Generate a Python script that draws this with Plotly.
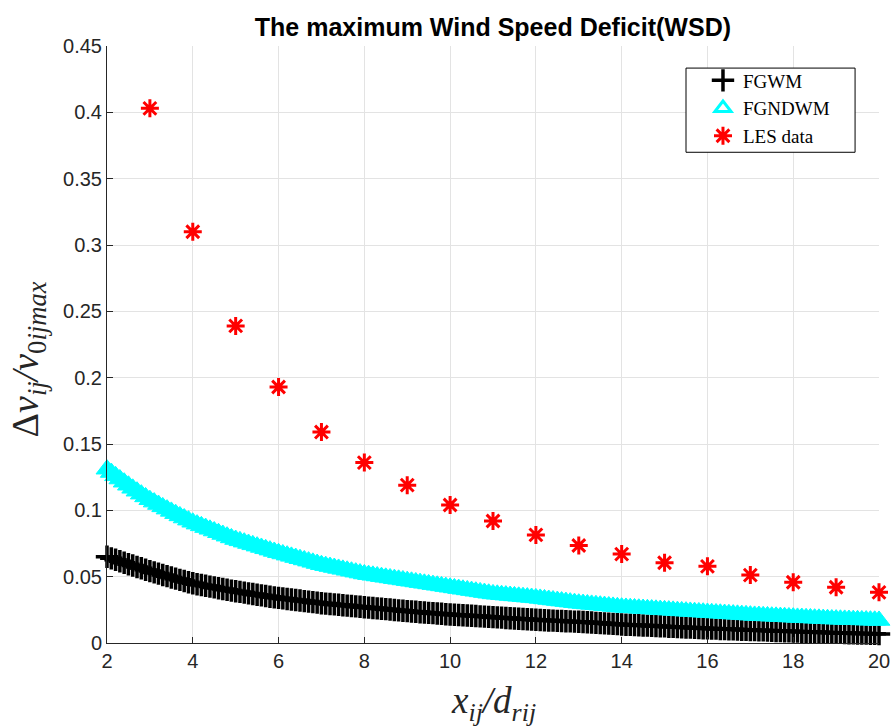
import plotly.graph_objects as go

# x positions of model curves (distance ratio x_ij/d_rij), step 0.1 from 2 to 20
x_model = [round(2.0 + 0.1 * i, 1) for i in range(181)]

fgwm = [
    0.0650, 0.0638, 0.0627, 0.0616, 0.0605, 0.0594, 0.0584, 0.0573, 0.0563, 0.0552,
    0.0542, 0.0532, 0.0523, 0.0513, 0.0504, 0.0494, 0.0485, 0.0476, 0.0467, 0.0458,
    0.0450, 0.0443, 0.0437, 0.0431, 0.0425, 0.0419, 0.0413, 0.0407, 0.0401, 0.0395,
    0.0390, 0.0385, 0.0380, 0.0374, 0.0369, 0.0364, 0.0359, 0.0354, 0.0349, 0.0344,
    0.0340, 0.0336, 0.0332, 0.0328, 0.0324, 0.0320, 0.0316, 0.0312, 0.0308, 0.0304,
    0.0300, 0.0297, 0.0294, 0.0291, 0.0288, 0.0285, 0.0282, 0.0279, 0.0276, 0.0273,
    0.0270, 0.0267, 0.0264, 0.0261, 0.0258, 0.0255, 0.0252, 0.0249, 0.0246, 0.0243,
    0.0240, 0.0237, 0.0235, 0.0232, 0.0230, 0.0227, 0.0225, 0.0222, 0.0220, 0.0217,
    0.0215, 0.0213, 0.0211, 0.0209, 0.0207, 0.0205, 0.0203, 0.0201, 0.0199, 0.0197,
    0.0195, 0.0193, 0.0191, 0.0189, 0.0187, 0.0185, 0.0183, 0.0181, 0.0179, 0.0177,
    0.0175, 0.0173, 0.0172, 0.0170, 0.0169, 0.0167, 0.0166, 0.0164, 0.0163, 0.0161,
    0.0160, 0.0158, 0.0156, 0.0154, 0.0152, 0.0150, 0.0148, 0.0146, 0.0144, 0.0142,
    0.0140, 0.0138, 0.0137, 0.0135, 0.0134, 0.0132, 0.0131, 0.0129, 0.0128, 0.0126,
    0.0125, 0.0123, 0.0122, 0.0120, 0.0119, 0.0117, 0.0116, 0.0114, 0.0113, 0.0111,
    0.0110, 0.0109, 0.0108, 0.0106, 0.0105, 0.0104, 0.0103, 0.0101, 0.0100, 0.0099,
    0.0098, 0.0097, 0.0096, 0.0095, 0.0094, 0.0092, 0.0091, 0.0090, 0.0089, 0.0088,
    0.0087, 0.0086, 0.0085, 0.0084, 0.0083, 0.0082, 0.0081, 0.0080, 0.0079, 0.0078,
    0.0077, 0.0076, 0.0075, 0.0074, 0.0073, 0.0072, 0.0072, 0.0071, 0.0070, 0.0069,
    0.0068,
]

fgndwm = [
    0.1310, 0.1285, 0.1260, 0.1236, 0.1212, 0.1189, 0.1166, 0.1144, 0.1122, 0.1101,
    0.1080, 0.1062, 0.1044, 0.1026, 0.1009, 0.0992, 0.0975, 0.0958, 0.0942, 0.0926,
    0.0910, 0.0896, 0.0883, 0.0870, 0.0857, 0.0844, 0.0831, 0.0818, 0.0805, 0.0792,
    0.0780, 0.0770, 0.0760, 0.0750, 0.0740, 0.0730, 0.0720, 0.0710, 0.0700, 0.0690,
    0.0680, 0.0671, 0.0662, 0.0653, 0.0644, 0.0635, 0.0626, 0.0617, 0.0608, 0.0599,
    0.0590, 0.0583, 0.0576, 0.0569, 0.0562, 0.0555, 0.0548, 0.0541, 0.0534, 0.0527,
    0.0520, 0.0515, 0.0510, 0.0505, 0.0500, 0.0495, 0.0490, 0.0485, 0.0480, 0.0475,
    0.0470, 0.0465, 0.0460, 0.0455, 0.0450, 0.0445, 0.0440, 0.0435, 0.0430, 0.0425,
    0.0420, 0.0415, 0.0410, 0.0405, 0.0400, 0.0395, 0.0390, 0.0385, 0.0380, 0.0375,
    0.0370, 0.0367, 0.0364, 0.0361, 0.0358, 0.0355, 0.0352, 0.0349, 0.0346, 0.0343,
    0.0340, 0.0336, 0.0332, 0.0328, 0.0324, 0.0320, 0.0316, 0.0312, 0.0308, 0.0304,
    0.0300, 0.0297, 0.0294, 0.0291, 0.0288, 0.0285, 0.0282, 0.0279, 0.0276, 0.0273,
    0.0270, 0.0268, 0.0266, 0.0264, 0.0262, 0.0260, 0.0258, 0.0256, 0.0254, 0.0252,
    0.0250, 0.0248, 0.0246, 0.0244, 0.0242, 0.0240, 0.0238, 0.0236, 0.0234, 0.0232,
    0.0230, 0.0228, 0.0226, 0.0224, 0.0222, 0.0220, 0.0218, 0.0216, 0.0214, 0.0212,
    0.0210, 0.0208, 0.0207, 0.0205, 0.0204, 0.0202, 0.0201, 0.0199, 0.0198, 0.0196,
    0.0195, 0.0193, 0.0192, 0.0190, 0.0189, 0.0187, 0.0186, 0.0184, 0.0183, 0.0181,
    0.0180, 0.0179, 0.0178, 0.0177, 0.0176, 0.0175, 0.0174, 0.0173, 0.0172, 0.0171,
    0.0170,
]

x_les = [3, 4, 5, 6, 7, 8, 9, 10, 11, 12, 13, 14, 15, 16, 17, 18, 19, 20]
les = [0.403, 0.310, 0.239, 0.193, 0.159, 0.136, 0.119, 0.104, 0.092, 0.0815,
       0.0735, 0.067, 0.0605, 0.0578, 0.0512, 0.0458, 0.042, 0.0382]

x_ticks = [2, 4, 6, 8, 10, 12, 14, 16, 18, 20]
y_ticks = [0, 0.05, 0.1, 0.15, 0.2, 0.25, 0.3, 0.35, 0.4, 0.45]
y_tick_labels = ["0", "0.05", "0.1", "0.15", "0.2", "0.25", "0.3", "0.35", "0.4", "0.45"]

title_text = "<b>The maximum Wind Speed Deficit(WSD)</b>"
x_label = "<i>x</i><sub><i>ij</i></sub><i>/d</i><sub><i>rij</i></sub>"
y_label = "Δ<i>v</i><sub><i>ij</i></sub><i>/v</i><sub>0<i>ijmax</i></sub>"

fig = go.Figure()

fig.add_trace(go.Scatter(
    x=x_model, y=fgwm, mode="markers", name="FGWM",
    marker=dict(symbol="cross-thin", size=16, color="black",
                line=dict(color="black", width=3.5)),
    cliponaxis=False,
))
fig.add_trace(go.Scatter(
    x=x_model, y=fgndwm, mode="markers", name="FGNDWM", showlegend=False,
    marker=dict(symbol="triangle-up", size=19, color="#00FFFF",
                line=dict(color="#00FFFF", width=1)),
    cliponaxis=False,
))
# legend entry showing the open-triangle marker
fig.add_trace(go.Scatter(
    x=[None], y=[None], mode="markers", name="FGNDWM",
    marker=dict(symbol="triangle-up-open", size=14, color="#00FFFF",
                line=dict(color="#00FFFF", width=3)),
))
fig.add_trace(go.Scatter(
    x=x_les, y=les, mode="markers", name="LES data",
    marker=dict(symbol="asterisk-open", size=15, color="red",
                line=dict(color="red", width=3)),
    cliponaxis=False,
))

axis_common = dict(
    showgrid=True, gridcolor="#e3e3e3", gridwidth=1,
    showline=True, linecolor="#262626", linewidth=1,
    ticks="inside", ticklen=6, tickcolor="#262626",
    tickfont=dict(family="Liberation Sans, Arial", size=20, color="#262626"),
    zeroline=False, mirror=False, automargin=False,
)

fig.update_layout(
    width=893, height=727,
    margin=dict(l=107, r=14, t=46, b=84),
    paper_bgcolor="white", plot_bgcolor="white",
    title=dict(text=title_text, x=0.552, xanchor="center", y=0.963, yanchor="middle",
               font=dict(family="Liberation Sans, Arial", size=25, color="black")),
    xaxis=dict(range=[2, 20], tickvals=x_ticks, ticktext=[str(t) for t in x_ticks],
               **axis_common),
    yaxis=dict(range=[0, 0.45], tickvals=y_ticks, ticktext=y_tick_labels,
               **axis_common),
    legend=dict(x=0.772, y=0.974, xanchor="left", yanchor="top",
                bgcolor="rgba(0,0,0,0)", borderwidth=0,
                font=dict(family="Liberation Serif, Times New Roman", size=19, color="black"),
                tracegroupgap=0),
    showlegend=True,
    shapes=[dict(type="rect", xref="paper", yref="paper",
                 x0=0.75, x1=0.969, y0=0.822, y1=0.963,
                 fillcolor="white", line=dict(color="black", width=1), layer="above")],
    annotations=[
        dict(text=x_label, xref="paper", yref="paper", x=0.5, y=0,
             xanchor="center", yanchor="middle", yshift=-60, showarrow=False,
             font=dict(family="Liberation Serif, DejaVu Serif", size=37, color="#262626")),
        dict(text=y_label, xref="paper", yref="paper", x=(28 - 107) / 772, y=0.475,
             xanchor="center", yanchor="middle", textangle=-90, showarrow=False,
             font=dict(family="Liberation Serif, DejaVu Serif", size=38, color="#262626")),
    ],
)

fig.write_html("out.html")
